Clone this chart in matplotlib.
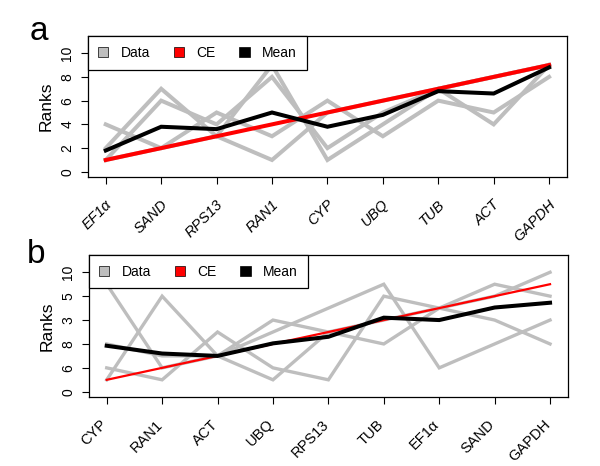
import matplotlib
matplotlib.use("Agg")
import matplotlib.pyplot as plt
import matplotlib.transforms as mtransforms
from matplotlib.patches import Patch

plt.rcParams['font.family'] = ['Liberation Sans', 'DejaVu Sans']

# panel a
genes_a = ['EF1α', 'SAND', 'RPS13', 'RAN1', 'CYP', 'UBQ', 'TUB', 'ACT', 'GAPDH']
data_a = [
    [4, 2, 5, 3, 6, 3, 6, 5, 8],
    [2, 7, 3, 9, 1, 4, 7, 4, 9],
    [1, 6, 4, 8, 2, 5, 7, 8, 9],
    [1, 2, 3, 1, 5, 6, 7, 8, 9],
]
ce_a = [1, 2, 3, 4, 5, 6, 7, 8, 9]
mean_a = [1.8, 3.8, 3.6, 5.0, 3.8, 4.8, 6.8, 6.6, 8.8]

# panel b
genes_b = ['CYP', 'RAN1', 'ACT', 'UBQ', 'RPS13', 'TUB', 'EF1α', 'SAND', 'GAPDH']
data_b = [
    [9, 2, 3, 5, 7, 9, 2, 4, 6],
    [2, 1, 5, 2, 1, 8, 7, 6, 4],
    [1, 8, 3, 6, 5, 4, 7, 9, 8],
    [4, 3, 3, 1, 5, 6, 7, 8, 10],
]
ce_b = [1, 2, 3, 4, 5, 6, 7, 8, 9]
mean_b = [3.85, 3.2, 3.0, 4.05, 4.6, 6.2, 6.0, 7.05, 7.45]
ytick_b = ['0', '6', '8', '3', '5', '10']

GRAY = '#BEBEBE'

fig = plt.figure(figsize=(6, 4.66), dpi=100)
ax_a = fig.add_axes([0.1467, 0.620, 0.798, 0.3026])
ax_b = fig.add_axes([0.1483, 0.148, 0.798, 0.3047])


def draw_panel(ax, genes, data, ce, mean, ylabels, italic, lw_ce, lw_gray, dx):
    x = list(range(1, len(genes) + 1))
    for row in data:
        ax.plot(x, row, color=GRAY, lw=lw_gray, solid_joinstyle='miter')
    ax.plot(x, ce, color='red', lw=lw_ce)
    ax.plot(x, mean, color='black', lw=2.9, solid_joinstyle='miter')

    ax.set_xlim(0.68, 9.32)
    ax.set_ylim(-0.44, 11.44)
    ax.set_yticks([0, 2, 4, 6, 8, 10])
    ax.set_yticklabels(ylabels, rotation=90, va='center', fontsize=10)
    ax.set_xticks(x)
    ax.set_xticklabels(genes, rotation=45, ha='right', va='center',
                       rotation_mode='anchor', fontsize=10.5,
                       fontstyle='italic' if italic else 'normal')
    ax.tick_params(axis='both', direction='out', length=5, width=0.8)
    ax.tick_params(axis='x', pad=13)
    ax.tick_params(axis='y', pad=5)
    offset = mtransforms.ScaledTranslation(dx / 100, 0, fig.dpi_scale_trans)
    for lab in ax.get_xticklabels():
        lab.set_transform(lab.get_transform() + offset)
    ax.set_ylabel('Ranks', fontsize=12.5, labelpad=5)
    for s in ax.spines.values():
        s.set_linewidth(0.9)

    handles = [Patch(facecolor=GRAY, edgecolor='black', lw=0.5),
               Patch(facecolor='red', edgecolor='black', lw=0.5),
               Patch(facecolor='black', edgecolor='black', lw=0.5)]
    leg = ax.legend(handles, ['Data', 'CE', 'Mean'], loc='upper left', ncol=3,
                    frameon=True, fancybox=False, edgecolor='black',
                    framealpha=1, borderaxespad=0, handlelength=0.75,
                    handleheight=0.75, handletextpad=0.9, columnspacing=1.7,
                    fontsize=10, borderpad=0.7)
    leg.get_frame().set_linewidth(0.9)


draw_panel(ax_a, genes_a, data_a, ce_a, mean_a, ['0', '2', '4', '6', '8', '10'],
           True, 2.9, 2.9, 4)
draw_panel(ax_b, genes_b, data_b, ce_b, mean_b, ytick_b, False, 1.6, 2.4, -2)

fig.text(0.05, 0.914, 'a', fontsize=24)
fig.text(0.045, 0.436, 'b', fontsize=24)

fig.savefig('out.png', dpi=100)
